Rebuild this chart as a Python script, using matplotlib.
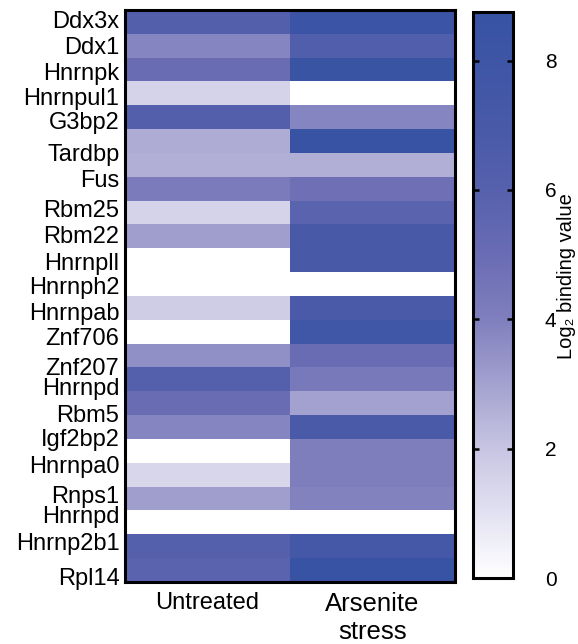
import numpy as np
import matplotlib
matplotlib.use("Agg")
import matplotlib.pyplot as plt
from matplotlib.colors import LinearSegmentedColormap

plt.rcParams['font.family'] = ['Liberation Sans', 'DejaVu Sans']

# ---- data ----
conditions = ["Untreated", "Arsenite\nstress"]
untreated = [6.2, 3.8, 5.0, 1.5, 6.2, 2.7, 2.6, 4.2, 1.5, 3.1, 0.0, 0.0,
             1.7, 0.0, 3.5, 6.0, 5.0, 3.8, 0.0, 1.4, 3.1, 0.0, 6.0, 5.8]
arsenite = [8.2, 6.3, 8.4, 0.0, 3.8, 8.5, 2.6, 4.8, 5.8, 7.0, 7.0, 0.0,
            6.8, 7.8, 5.0, 4.3, 3.0, 6.8, 4.0, 4.0, 3.9, 0.0, 7.3, 8.5]
gene_labels = ["Ddx3x", "Ddx1", "Hnrnpk", "Hnrnpul1", "G3bp2", "Tardbp", "Fus",
               "Rbm25", "Rbm22", "Hnrnpll", "Hnrnph2", "Hnrnpab", "Znf706",
               "Znf207", "Hnrnpd", "Rbm5", "Igf2bp2", "Hnrnpa0", "Rnps1",
               "Hnrnpd", "Hnrnp2b1", "Rpl14"]
# label positions (in row units) as they appear in the figure
label_rows = [-0.12, 1.01, 2.06, 3.11, 4.12, 5.46, 6.59, 7.81, 8.90, 10.07,
              11.08, 12.17, 13.22, 14.44, 15.28, 16.45, 17.42, 18.55, 19.81,
              20.65, 21.82, 23.25]
cbar_ticks = [0, 2, 4, 6, 8]
vmin, vmax = 0.0, 8.75

cmap = LinearSegmentedColormap.from_list(
    "wb",
    [(0.0, "#ffffff"), (1.0 / vmax, "#e2e1f1"), (2.0 / vmax, "#c7c5e2"),
     (3.0 / vmax, "#a3a1cf"), (4.0 / vmax, "#7f7fbe"), (5.0 / vmax, "#6a6cb4"),
     (6.0 / vmax, "#5661ad"), (7.0 / vmax, "#4859a8"), (1.0, "#3753a4")])

data = np.column_stack([untreated, arsenite])

fig = plt.figure(figsize=(5.78, 6.44), dpi=100)
ax = fig.add_axes([125 / 578, 1 - 582 / 644, 330 / 578, 572 / 644])
im = ax.imshow(data, aspect='auto', cmap=cmap, vmin=vmin, vmax=vmax,
               interpolation='nearest')

ax.set_yticks(label_rows)
ax.set_yticklabels(gene_labels, fontsize=17)
ax.set_xticks(range(len(conditions)))
ax.set_xticklabels(conditions, va='top')
xt = ax.get_xticklabels()
xt[0].set_fontsize(17)
xt[1].set_fontsize(18.5)
ax.tick_params(axis='y', length=0, pad=4)
ax.tick_params(axis='x', length=0, pad=7)
for s in ax.spines.values():
    s.set_linewidth(2.2)
    s.set_color('black')

cax = fig.add_axes([473 / 578, 1 - 578 / 644, 40 / 578, 566 / 644])
cb = fig.colorbar(im, cax=cax, ticks=cbar_ticks)
cb.outline.set_linewidth(2.2)
cax.tick_params(axis='y', direction='in', left=True, right=True, length=4,
                width=1.8, labelsize=15, pad=23)
cax.yaxis.set_ticks_position('both')
fig.text(567 / 578, 1 - 276 / 644, "Log\u2082 binding value", rotation=90,
         ha='center', va='center', fontsize=14.5)

fig.savefig("out.png", dpi=100)
